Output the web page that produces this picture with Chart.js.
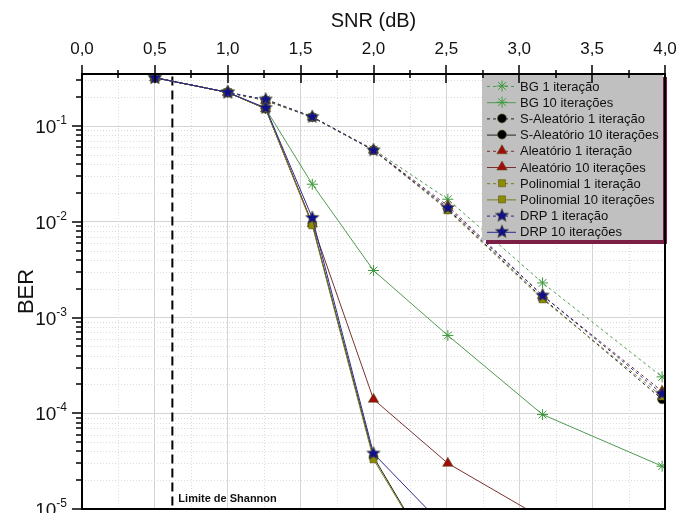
<!DOCTYPE html>
<html>
<head>
<meta charset="utf-8">
<script src="https://cdn.jsdelivr.net/npm/chart.js@4.4.1/dist/chart.umd.min.js"></script>
<style>
  html, body { margin: 0; padding: 0; background: #fff; }
  #wrap { width: 680px; height: 513px; }
</style>
</head>
<body>
<div id="wrap"><canvas id="Chart" width="680" height="513"></canvas></div>
<script>
// SNR points (dB)
var snr = [0.5, 1.0, 1.26, 1.58, 2.0, 2.51, 3.16, 3.98];

var bg1    = [0.32, 0.225, 0.19,  0.125,  0.057,    0.0172,    0.0023,   0.00024];
var bg10   = [0.32, 0.225, 0.152, 0.0247, 0.0031,   0.00065,   0.000097, 0.000028];
var sal1   = [0.32, 0.225, 0.185, 0.124,  0.056,    0.0135,    0.0016,   0.00014];
var sal10  = [0.32, 0.225, 0.152, 0.0095, 0.000035, 0.0000017, null,     null];
var ale1   = [0.32, 0.225, 0.185, 0.124,  0.056,    0.0147,    0.0017,   0.00017];
var ale10  = [0.32, 0.225, 0.152, 0.0095, 0.00014,  0.00003,   0.000008, null];
var pol1   = [0.32, 0.225, 0.185, 0.124,  0.056,    0.0132,    0.00155,  0.00015];
var pol10  = [0.32, 0.225, 0.152, 0.0092, 0.000033, 0.0000017, null,     null];
var drp1   = [0.32, 0.225, 0.19,  0.125,  0.056,    0.014,     0.0017,   0.00016];
var drp10  = [0.32, 0.225, 0.155, 0.011,  0.000038, 0.000006,  null,     null];

var shannon = 0.62;
var xTicks = [0, 0.5, 1, 1.5, 2, 2.5, 3, 3.5, 4];
var yDecades = [1e-5, 1e-4, 1e-3, 1e-2, 1e-1];
var yExp = ['-5', '-4', '-3', '-2', '-1'];

var FONT = "'Liberation Sans', Arial, sans-serif";

// filled 5-point star for DRP
function makeStar(r, fill) {
  var c = document.createElement('canvas');
  c.width = r * 2 + 2; c.height = r * 2 + 2;
  var g = c.getContext('2d');
  g.beginPath();
  for (var i = 0; i < 10; i++) {
    var rad = (i % 2 == 0) ? r : r * 0.45;
    var a = -Math.PI / 2 + i * Math.PI / 5;
    var px = r + 1 + rad * Math.cos(a), py = r + 1 + rad * Math.sin(a);
    if (i == 0) g.moveTo(px, py); else g.lineTo(px, py);
  }
  g.closePath();
  g.fillStyle = fill;
  g.fill();
  g.strokeStyle = '#5a5a20';
  g.lineWidth = 0.6;
  g.stroke();
  return c;
}
var starImg = makeStar(7, '#10108c');

function pts(arr) {
  var out = [];
  for (var i = 0; i < arr.length; i++) {
    if (arr[i] != null) out.push({ x: snr[i], y: arr[i] });
  }
  return out;
}

function series(label, arr, line, mark, style, radius, dashed, order) {
  return {
    label: label,
    data: pts(arr),
    borderColor: line,
    backgroundColor: mark,
    pointBackgroundColor: mark,
    pointBorderColor: style == 'star' ? mark : '#5a5a20',
    pointBorderWidth: style == 'star' ? 1 : 0.6,
    pointStyle: style,
    pointRadius: radius,
    borderWidth: 1,
    borderDash: dashed ? [3, 3] : [],
    tension: 0,
    order: order
  };
}

var datasets = [
  series('BG 1 iteração', bg1, '#4f9a4f', '#3f9a3f', 'star', 5.5, true, 9),
  series('BG 10 iterações', bg10, '#4f9a4f', '#3f9a3f', 'star', 5.5, false, 8),
  series('S-Aleatório 1 iteração', sal1, '#222', '#000', 'circle', 4.5, true, 7),
  series('S-Aleatório 10 iterações', sal10, '#222', '#000', 'circle', 4.5, false, 6),
  series('Aleatório 1 iteração', ale1, '#7a3030', '#a00c0c', 'triangle', 6, true, 5),
  series('Aleatório 10 iterações', ale10, '#7a3030', '#a00c0c', 'triangle', 6, false, 4),
  series('Polinomial 1 iteração', pol1, '#7a7a20', '#8c8c00', 'rect', 5, true, 3),
  series('Polinomial 10 iterações', pol10, '#7a7a20', '#8c8c00', 'rect', 5, false, 2),
  series('DRP 1 iteração', drp1, '#2a2a90', '#10108c', starImg, 7, true, 1),
  series('DRP 10 iterações', drp10, '#2a2a90', '#10108c', starImg, 7, false, 0),
  {
    label: 'Shannon',
    data: [{ x: shannon, y: 0.33 }, { x: shannon, y: 1e-5 }],
    borderColor: '#000',
    borderWidth: 2,
    borderDash: [9, 5],
    pointRadius: 0,
    order: 10,
    isLimit: true
  }
];

function minorY() {
  var v = [];
  for (var e = -5; e <= -1; e++) {
    for (var k = 2; k <= 9; k++) v.push(k * Math.pow(10, e));
  }
  return v;
}

var framePlugin = {
  id: 'frame',
  beforeDatasetsDraw: function(chart) {
    var ctx = chart.ctx, a = chart.chartArea;
    var xs = chart.scales.x, ys = chart.scales.y;
    ctx.save();
    ctx.strokeStyle = '#dcdcdc';
    ctx.lineWidth = 1;
    ctx.setLineDash([1, 2]);
    minorY().forEach(function(v) {
      var y = Math.round(ys.getPixelForValue(v)) + 0.5;
      if (y < a.top || y > a.bottom) return;
      ctx.beginPath(); ctx.moveTo(a.left, y); ctx.lineTo(a.right, y); ctx.stroke();
    });
    for (var x = 0.25; x < 4; x += 0.5) {
      var px = Math.round(xs.getPixelForValue(x)) + 0.5;
      ctx.beginPath(); ctx.moveTo(px, a.top); ctx.lineTo(px, a.bottom); ctx.stroke();
    }
    ctx.restore();
  },
  afterDatasetsDraw: function(chart) {
    var ctx = chart.ctx, a = chart.chartArea;
    var xs = chart.scales.x, ys = chart.scales.y;
    ctx.save();
    // Shannon label
    ctx.fillStyle = '#111';
    ctx.font = 'bold 11px ' + FONT;
    ctx.textBaseline = 'middle';
    ctx.fillText('Limite de Shannon', xs.getPixelForValue(shannon) + 6, a.bottom - 10);

    // legend box
    var lx = 482, ly = 73, lw = 181, lh = 167;
    ctx.fillStyle = '#7b1f45';
    ctx.fillRect(lx + 4, ly + 4, lw, lh);
    ctx.fillStyle = '#c0c0c0';
    ctx.fillRect(lx, ly, lw, lh);
    ctx.font = '13px ' + FONT;
    ctx.textBaseline = 'middle';
    var items = chart.data.datasets.filter(function(d) { return !d.isLimit; });
    items.forEach(function(d, i) {
      var y = 86 + i * 16.2;
      ctx.strokeStyle = d.borderColor;
      ctx.lineWidth = 1;
      ctx.setLineDash(d.borderDash);
      ctx.beginPath(); ctx.moveTo(487, y + 0.5); ctx.lineTo(516, y + 0.5); ctx.stroke();
      ctx.setLineDash([]);
      ctx.fillStyle = d.pointBackgroundColor;
      ctx.strokeStyle = d.pointBorderColor;
      ctx.lineWidth = d.pointBorderWidth;
      Chart.helpers.drawPoint(ctx, { pointStyle: d.pointStyle, radius: d.pointRadius, rotation: 0, borderWidth: d.pointBorderWidth }, 502, y);
      ctx.fillStyle = '#111';
      ctx.fillText(d.label, 520, y + 1);
    });

    // y tick labels: 10 with raised exponent
    ctx.fillStyle = '#111';
    ctx.textAlign = 'right';
    ctx.textBaseline = 'alphabetic';
    yDecades.forEach(function(v, i) {
      var py = ys.getPixelForValue(v);
      ctx.font = '12px ' + FONT;
      var ew = ctx.measureText(yExp[i]).width;
      ctx.fillText(yExp[i], 67, py - 2);
      ctx.font = '19px ' + FONT;
      ctx.fillText('10', 67 - ew, py + 7);
    });

    // frame and ticks
    ctx.strokeStyle = '#000';
    ctx.lineWidth = 2;
    ctx.strokeRect(a.left, a.top, a.right - a.left, a.bottom - a.top);
    ctx.lineWidth = 1.5;
    for (var x = 0; x <= 4.001; x += 0.25) {
      var px = Math.round(xs.getPixelForValue(x));
      var major = Math.abs(x * 2 - Math.round(x * 2)) < 1e-6;
      var t = major ? 9 : 4;
      ctx.beginPath(); ctx.moveTo(px, a.top - t); ctx.lineTo(px, a.top + t); ctx.stroke();
    }
    yDecades.forEach(function(v) {
      var py = Math.round(ys.getPixelForValue(v));
      ctx.beginPath(); ctx.moveTo(a.left - 10, py); ctx.lineTo(a.left, py); ctx.stroke();
    });
    minorY().forEach(function(v) {
      var py = Math.round(ys.getPixelForValue(v));
      if (py < a.top || py > a.bottom) return;
      ctx.beginPath(); ctx.moveTo(a.left - 6, py); ctx.lineTo(a.left, py); ctx.stroke();
    });
    ctx.restore();
  }
};

var chart = new Chart(document.getElementById('Chart'), {
  type: 'line',
  data: { datasets: datasets },
  plugins: [framePlugin],
  options: {
    responsive: false,
    animation: false,
    layout: { autoPadding: false, padding: { left: 0, right: 15, top: 0, bottom: 4 } },
    plugins: { legend: { display: false }, tooltip: { enabled: false } },
    scales: {
      x: {
        type: 'linear',
        position: 'top',
        min: 0,
        max: 4,
        afterBuildTicks: function(scale) {
          scale.ticks = xTicks.map(function(v) { return { value: v }; });
        },
        ticks: {
          padding: 14,
          color: '#111',
          font: { family: FONT, size: 17 },
          maxRotation: 0,
          callback: function(v) { return v.toFixed(1).replace('.', ','); }
        },
        grid: { color: '#d4d4d4', lineWidth: 1, drawTicks: false },
        border: { display: false },
        title: { display: true, text: 'SNR (dB)', color: '#111', font: { family: FONT, size: 20 }, padding: { top: 9, bottom: 0 } },
        afterFit: function(scale) {
          scale.height = 74;
          scale.paddingLeft = 0;
          scale.paddingRight = 0;
        }
      },
      y: {
        type: 'logarithmic',
        min: 1e-5,
        max: 0.35,
        afterBuildTicks: function(scale) {
          scale.ticks = yDecades.map(function(v) { return { value: v }; });
        },
        ticks: { display: false },
        grid: { color: '#d4d4d4', lineWidth: 1, drawTicks: false },
        border: { display: false },
        title: { display: true, text: 'BER', color: '#111', font: { family: FONT, size: 22 }, padding: { top: 14, bottom: 4 } },
        afterFit: function(scale) {
          scale.width = 82;
          scale.paddingTop = 0;
          scale.paddingBottom = 0;
        }
      }
    }
  }
});
</script>
</body>
</html>
